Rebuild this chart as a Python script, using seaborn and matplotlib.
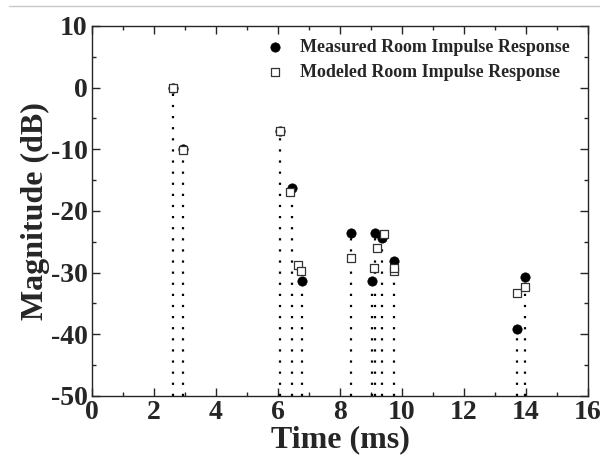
import matplotlib
matplotlib.use("Agg")
import matplotlib.pyplot as plt
from matplotlib.lines import Line2D
from matplotlib.ticker import MultipleLocator
import seaborn as sns
import pandas as pd

measured_t = [2.62, 2.95, 6.06, 6.44, 6.78, 8.34, 9.02, 9.13, 9.34, 9.74, 13.72, 13.98]
measured_db = [0.0, -10.0, -7.0, -16.3, -31.4, -23.6, -31.3, -23.6, -24.4, -28.1, -39.1, -30.7]
modeled_t = [2.62, 2.95, 6.06, 6.40, 6.66, 6.74, 8.34, 9.10, 9.20, 9.42, 9.74, 9.75, 13.71, 13.98]
modeled_db = [0.0, -10.1, -7.0, -16.9, -28.8, -29.8, -27.7, -29.3, -26.0, -23.7, -29.7, -29.2, -33.3, -32.3]
series_names = ["Measured Room Impulse Response", "Modeled Room Impulse Response"]
x_ticks = [0, 2, 4, 6, 8, 10, 12, 14, 16]
y_ticks = [10, 0, -10, -20, -30, -40, -50]

sns.set_style("ticks")
plt.rcParams["font.family"] = ["Liberation Serif", "DejaVu Serif"]
plt.rcParams["font.weight"] = "bold"
plt.rcParams["axes.unicode_minus"] = False

meas = pd.DataFrame({"t": measured_t, "db": measured_db})
mod = pd.DataFrame({"t": modeled_t, "db": modeled_db})

fig = plt.figure(figsize=(6.05, 4.61), dpi=100)
ax = fig.add_axes([0.152, 0.141, 0.820, 0.803])

ax.vlines(meas["t"], -50, meas["db"], colors="black", linestyles=(0, (1, 4)),
          linewidth=1.6, zorder=1)

sns.scatterplot(data=meas, x="t", y="db", ax=ax, marker="o", s=45,
                color="black", edgecolor="black", linewidth=0.5, zorder=3,
                label=series_names[0])
sns.scatterplot(data=mod, x="t", y="db", ax=ax, marker="s", s=38,
                facecolor="white", edgecolor="#333333", linewidth=0.9, zorder=4,
                label=series_names[1])

ax.set_xlim(0, 16)
ax.set_ylim(-50, 10)
ax.set_xticks(x_ticks)
ax.set_yticks(y_ticks)
ax.xaxis.set_minor_locator(MultipleLocator(1))
ax.yaxis.set_minor_locator(MultipleLocator(5))
ax.tick_params(which="both", direction="in", top=True, right=True, width=1.0)
ax.tick_params(which="major", length=6, labelsize=20, pad=3)
ax.tick_params(which="minor", length=3)
for lab in ax.get_xticklabels() + ax.get_yticklabels():
    lab.set_fontweight("bold")
for sp in ax.spines.values():
    sp.set_linewidth(1.0)
    sp.set_visible(True)

ax.set_xlabel("Time (ms)", fontsize=23, fontweight="bold", labelpad=0)
ax.set_ylabel("Magnitude (dB)", fontsize=23, fontweight="bold", labelpad=1)

leg = ax.legend(loc="upper right", bbox_to_anchor=(0.985, 0.995), frameon=False,
                prop={"family": "Liberation Serif", "weight": "bold", "size": 13},
                handletextpad=0.4, labelspacing=0.45, borderaxespad=0.2)

fig.add_artist(Line2D([0.015, 0.99], [0.987, 0.987], transform=fig.transFigure,
                      color="#c8c8c8", linewidth=1.0))

fig.savefig("out.png", dpi=100)
